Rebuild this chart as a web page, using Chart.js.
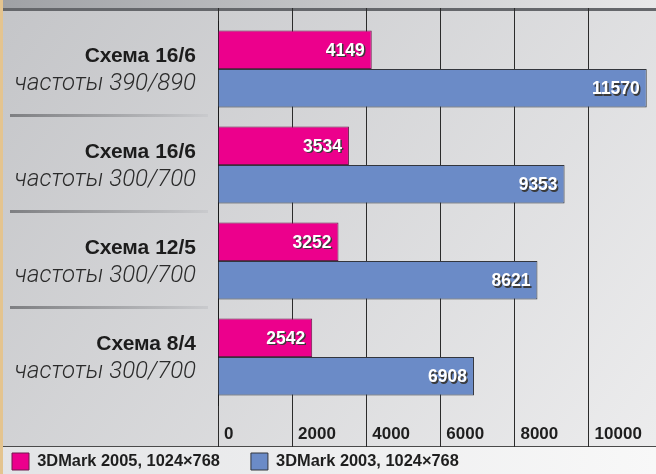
<!DOCTYPE html>
<html>
<head>
<meta charset="utf-8">
<script src="https://cdn.jsdelivr.net/npm/chart.js@4.4.1/dist/chart.umd.min.js"></script>
<style>
  html, body { margin: 0; padding: 0; background: #ffffff; }
  canvas { display: block; }
</style>
</head>
<body>
<canvas id="c" width="656" height="474"></canvas>
<script>
// Board configurations and their core/memory clocks
const schemes = ['Схема 16/6', 'Схема 16/6', 'Схема 12/5', 'Схема 8/4'];
const clocks = ['частоты 390/890', 'частоты 300/700', 'частоты 300/700', 'частоты 300/700'];

// Benchmark scores
const mark2005 = [4149, 3534, 3252, 2542];
const mark2003 = [11570, 9353, 8621, 6908];
const seriesNames = ['3DMark 2005, 1024×768', '3DMark 2003, 1024×768'];

// Score axis
const scoreTicks = [0, 2000, 4000, 6000, 8000, 10000];
const scoreMax = 11820;

const FONT = "'Liberation Sans', Arial, sans-serif";

const useFixedTicks = scale => { scale.ticks = scoreTicks.map(v => ({ value: v })); };

// Backdrop: grey panel, top rule, left beige edge, legend strip
const backdrop = {
  id: 'backdrop',
  beforeDraw(chart) {
    const { ctx, width, height } = chart;
    ctx.save();
    let g = ctx.createLinearGradient(0, 0, width, height);
    g.addColorStop(0, '#c4c5c8');
    g.addColorStop(1, '#ededee');
    ctx.fillStyle = g;
    ctx.fillRect(0, 0, width, height);

    g = ctx.createLinearGradient(0, 0, width, 0);
    g.addColorStop(0, '#9fa1a5');
    g.addColorStop(1, '#e9e9ea');
    ctx.fillStyle = g;
    ctx.fillRect(0, 0, width, 8);
    ctx.fillStyle = '#65676b';
    ctx.fillRect(0, 8, width, 3);

    g = ctx.createLinearGradient(0, 0, width, 0);
    g.addColorStop(0, '#e3e4e6');
    g.addColorStop(1, '#f8f8f8');
    ctx.fillStyle = g;
    ctx.fillRect(0, 447, width, height - 447);
    ctx.fillStyle = '#4a4a4a';
    ctx.fillRect(0, 446, width, 1);

    ctx.fillStyle = '#e4c48f';
    ctx.fillRect(0, 0, 3, height);
    ctx.restore();
  }
};

// Two-line category captions and the rules between groups
const captions = {
  id: 'captions',
  afterDraw(chart) {
    const { ctx } = chart;
    const y = chart.scales.y;
    const labels = chart.data.labels;
    ctx.save();
    for (let i = 0; i < labels.length - 1; i++) {
      const ym = Math.round((y.getPixelForValue(i) + y.getPixelForValue(i + 1)) / 2) - 3;
      const g = ctx.createLinearGradient(10, 0, 208, 0);
      g.addColorStop(0, '#7e7f82');
      g.addColorStop(1, '#c9cacd');
      ctx.fillStyle = g;
      ctx.fillRect(10, ym, 198, 3);
    }
    ctx.textAlign = 'right';
    ctx.textBaseline = 'alphabetic';
    labels.forEach((lab, i) => {
      const yc = y.getPixelForValue(i);
      ctx.fillStyle = '#1c1c1c';
      ctx.font = "bold 21px " + FONT;
      ctx.fillText(lab[0], 196, yc - 7);
      ctx.fillStyle = '#2a2a2a';
      ctx.font = "italic 300 24px Roboto, " + FONT;
      ctx.fillText(lab[1], 196, yc + 21);
    });
    ctx.restore();
  }
};

// Score printed inside the end of each bar
const barValues = {
  id: 'barValues',
  afterDatasetsDraw(chart) {
    const { ctx } = chart;
    ctx.save();
    ctx.font = "bold 17.5px " + FONT;
    ctx.textAlign = 'right';
    ctx.textBaseline = 'middle';
    chart.data.datasets.forEach((ds, di) => {
      chart.getDatasetMeta(di).data.forEach((bar, i) => {
        const txt = String(ds.data[i]);
        const x = bar.x - 7, yy = bar.y + 1;
        ctx.fillStyle = '#3a3a3a';
        ctx.fillText(txt, x + 1.5, yy + 1.5);
        ctx.fillStyle = '#ffffff';
        ctx.fillText(txt, x, yy);
      });
    });
    ctx.restore();
  }
};

new Chart(document.getElementById('c'), {
  type: 'bar',
  data: {
    labels: schemes.map((s, i) => [s, clocks[i]]),
    datasets: [
      {
        label: seriesNames[0],
        data: mark2005,
        backgroundColor: '#ec008c',
        borderColor: '#6e1a4c',
        borderWidth: 1,
        categoryPercentage: 0.8,
        barPercentage: 1.0
      },
      {
        label: seriesNames[1],
        data: mark2003,
        backgroundColor: '#6b8bc7',
        borderColor: '#33363d',
        borderWidth: 1,
        categoryPercentage: 0.8,
        barPercentage: 1.0
      }
    ]
  },
  options: {
    indexAxis: 'y',
    responsive: false,
    animation: false,
    layout: { padding: { left: -19, top: 8, right: 0, bottom: 0 } },
    plugins: {
      tooltip: { enabled: false },
      legend: {
        position: 'bottom',
        align: 'start',
        maxHeight: 52,
        labels: {
          boxWidth: 17,
          boxHeight: 17,
          padding: 31,
          color: '#1e1e1e',
          font: { family: FONT, size: 16.4, weight: 'bold' }
        }
      }
    },
    scales: {
      x: {
        type: 'linear',
        position: 'bottom',
        min: 0,
        max: scoreMax,
        afterBuildTicks: useFixedTicks,
        afterFit: s => { s.height = 17; },
        grid: { color: '#2b2b2b', lineWidth: 1, tickLength: 42 },
        border: { display: false },
        ticks: {
          mirror: true,
          align: 'start',
          labelOffset: 6,
          padding: -40,
          color: '#1e1e1e',
          font: { family: FONT, size: 17, weight: 'bold' },
          callback: v => String(v)
        }
      },
      x2: {
        type: 'linear',
        axis: 'x',
        position: 'top',
        min: 0,
        max: scoreMax,
        afterBuildTicks: useFixedTicks,
        afterFit: s => { s.height = 13; },
        grid: { color: '#2b2b2b', lineWidth: 1, drawOnChartArea: false, tickLength: 13 },
        border: { display: false },
        ticks: { display: false }
      },
      y: {
        afterFit: s => { s.width = 237; },
        grid: { display: false },
        border: { display: true, color: '#1a1a1a', width: 1 },
        ticks: { display: false }
      }
    }
  },
  plugins: [backdrop, captions, barValues]
});
</script>
</body>
</html>
